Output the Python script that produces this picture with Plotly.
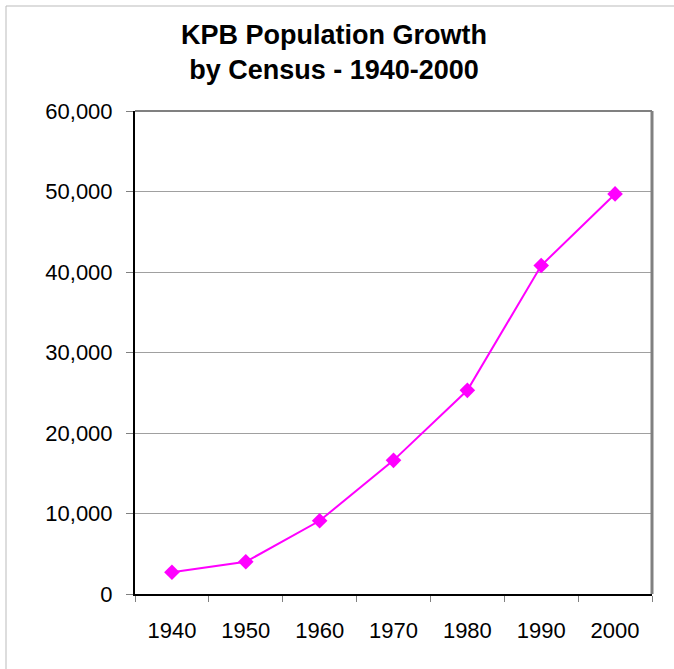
import plotly.graph_objects as go

years = ["1940", "1950", "1960", "1970", "1980", "1990", "2000"]
population = [2700, 4000, 9100, 16600, 25300, 40800, 49700]
y_ticks = [0, 10000, 20000, 30000, 40000, 50000, 60000]
y_tick_labels = ["0", "10,000", "20,000", "30,000", "40,000", "50,000", "60,000"]

W, H = 674, 669
L, R, T, B = 135, 22, 111, 75
pw, ph = W - L - R, H - T - B


def px_x(p):
    return (p - L) / pw


def px_y(p):
    return (H - B - p) / ph


fig = go.Figure()
fig.add_trace(go.Scatter(
    x=years, y=population, mode="lines+markers",
    line=dict(color="#FF00FF", width=2),
    marker=dict(symbol="diamond", size=12, color="#FF00FF"),
    showlegend=False,
))

fig.update_layout(
    width=W, height=H,
    margin=dict(l=L, r=R, t=T, b=B),
    paper_bgcolor="white", plot_bgcolor="white",
    font=dict(family="Liberation Sans, Arial, sans-serif", color="black"),
    title=dict(
        text="<b>KPB Population Growth<br>by Census - 1940-2000</b>",
        x=334 / W, xanchor="center", y=1 - 44 / H, yanchor="middle",
        font=dict(size=27, color="black"),
    ),
    xaxis=dict(
        type="category", tickson="boundaries",
        ticks="outside", ticklen=6, tickcolor="#808080", tickwidth=1,
        showline=True, linecolor="black", linewidth=2,
        showgrid=False, tickfont=dict(size=22),
        range=[-0.5, 6.5], ticklabelstandoff=16,
    ),
    yaxis=dict(
        range=[0, 60000], tickvals=y_ticks, ticktext=y_tick_labels,
        ticks="outside", ticklen=7, tickcolor="#808080",
        showline=True, linecolor="black", linewidth=2,
        showgrid=True, gridcolor="#A0A0A0", gridwidth=1,
        zeroline=False, tickfont=dict(size=22), ticklabelstandoff=9,
    ),
    shapes=[
        dict(type="line", xref="paper", yref="paper", x0=0, x1=1, y0=1, y1=1,
             line=dict(color="#808080", width=2)),
        dict(type="line", xref="paper", yref="paper", x0=1, x1=1, y0=0, y1=1,
             line=dict(color="#808080", width=3)),
        dict(type="line", xref="paper", yref="paper",
             x0=px_x(6), x1=px_x(6), y0=px_y(H + 5), y1=px_y(6),
             line=dict(color="#BBBBBB", width=1)),
        dict(type="line", xref="paper", yref="paper",
             x0=px_x(6), x1=px_x(W + 5), y0=px_y(6), y1=px_y(6),
             line=dict(color="#BBBBBB", width=1)),
    ],
)

fig.write_html(
    "out.html",
    config={"displayModeBar": False},
    post_script="document.body.style.margin='0';document.body.style.overflow='hidden';",
)
